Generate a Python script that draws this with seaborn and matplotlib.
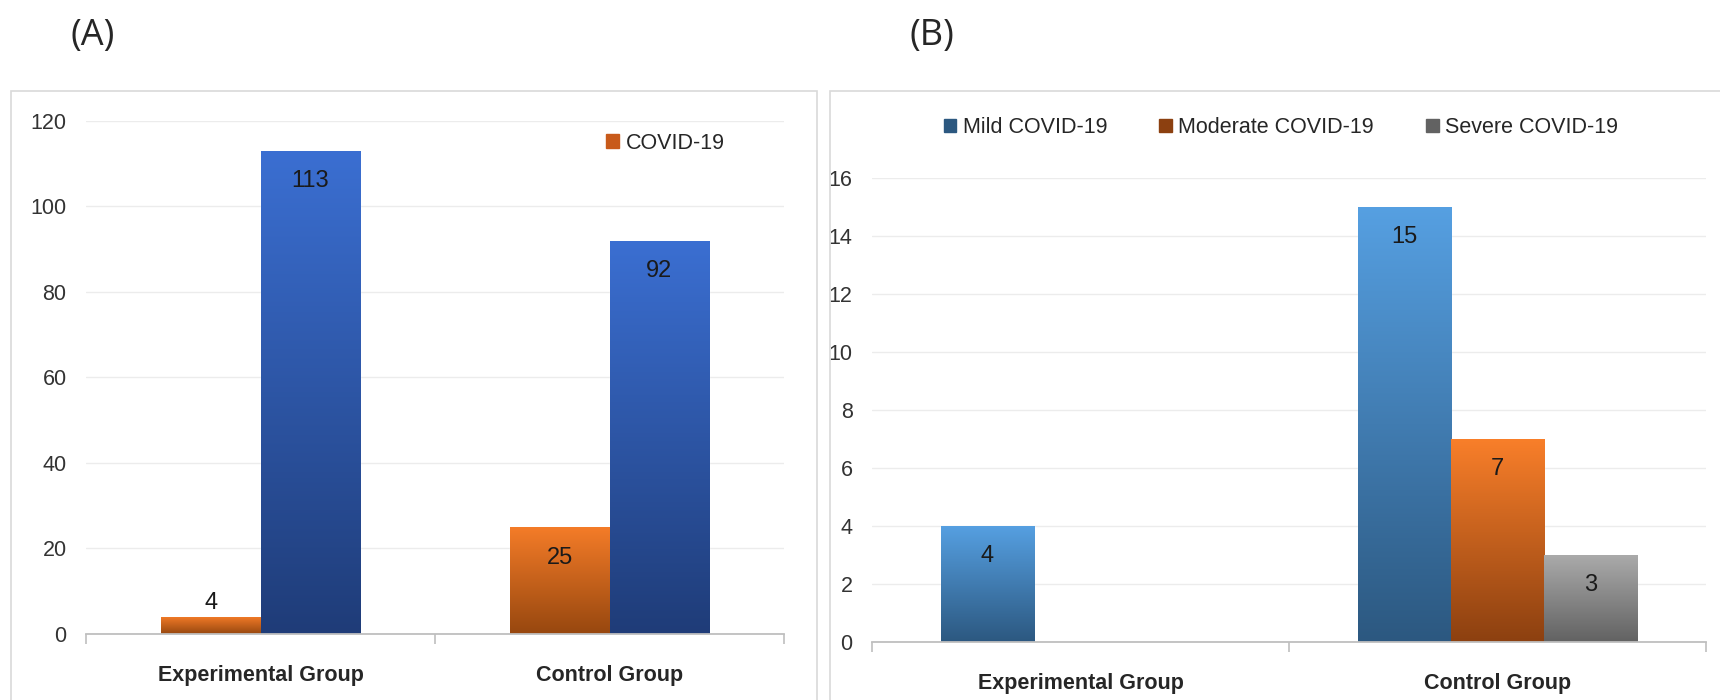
import numpy as np
import pandas as pd
import seaborn as sns
import matplotlib.pyplot as plt
from matplotlib.patches import Rectangle, Patch
from matplotlib.colors import LinearSegmentedColormap

# Data
GROUPS = ["Experimental Group", "Control Group"]

A_SERIES = ["COVID-19", "No COVID-19"]   # second series has no legend entry
A_COVID = [4, 25]
A_OTHER = [113, 92]

B_SERIES = ["Mild COVID-19", "Moderate COVID-19", "Severe COVID-19"]
B_MILD = [4, 15]
B_MODERATE = [0, 7]
B_SEVERE = [0, 3]

# (bottom, top) gradient colours per series
A_COLORS = {"COVID-19": ("#97470f", "#f47c28"), "No COVID-19": ("#1f3c78", "#3b6fd2")}
B_COLORS = {"Mild COVID-19": ("#2c5880", "#56a0e2"),
            "Moderate COVID-19": ("#8c4010", "#f97f2a"),
            "Severe COVID-19": ("#626262", "#ababab")}

sns.set_theme(style="white")
plt.rcParams['font.family'] = ['Liberation Sans', 'DejaVu Sans']


def shade_bars(ax, colors, order):
    # seaborn draws the bars hue by hue, one per category
    n = len(GROUPS)
    for i, patch in enumerate(ax.patches):
        h = patch.get_height()
        if not h or np.isnan(h):
            continue
        lo, hi = colors[order[i // n]]
        cmap = LinearSegmentedColormap.from_list("g", [lo, hi])
        x0 = patch.get_x()
        w = patch.get_width()
        im = ax.imshow(np.linspace(0, 1, 256).reshape(-1, 1), cmap=cmap,
                       extent=[x0, x0 + w, 0, h], origin="lower",
                       aspect="auto", zorder=patch.get_zorder() + 0.1)
        im.set_clip_path(patch)


def style_axis(ax, ymax, step):
    ax.set_xlim(-0.5, 1.5)
    ax.set_ylim(0, ymax)
    ax.set_yticks(np.arange(0, ymax + 1, step))
    ax.yaxis.grid(True, color="#ececec", lw=1)
    ax.set_axisbelow(True)
    for s in ["left", "top", "right"]:
        ax.spines[s].set_visible(False)
    ax.spines["bottom"].set_color("#bfbfbf")
    ax.spines["bottom"].set_linewidth(1.3)
    ax.set_xticks([0, 1])
    ax.set_xticklabels(GROUPS, fontweight="bold", fontsize=15.5, color="#262626")
    ax.set_xticks([-0.5, 0.5, 1.5], minor=True)
    ax.tick_params(axis="x", which="major", bottom=False, pad=16)
    ax.tick_params(axis="x", which="minor", bottom=True, length=7, color="#bfbfbf",
                   width=1.2, direction="out")
    ax.tick_params(axis="y", length=0, labelsize=15.5, labelcolor="#333333", pad=14)
    ax.set_xlabel("")
    ax.set_ylabel("")


def add_labels(ax, outside_below):
    for patch in ax.patches:
        h = patch.get_height()
        if not h or np.isnan(h):
            continue
        x = patch.get_x() + patch.get_width() / 2
        dy = 10 if h < outside_below else -22
        ax.annotate(f"{h:g}", (x, h), xytext=(0, dy), textcoords="offset points",
                    ha="center", va="center", fontsize=17, color="#1a1a1a", zorder=5)


fig = plt.figure(figsize=(17.2, 7), dpi=100)

# panel frames
fig.add_artist(Rectangle((0.0064, -0.01), 0.4686, 0.88, transform=fig.transFigure,
                         fill=False, edgecolor="#d9d9d9", lw=1.2))
fig.add_artist(Rectangle((0.4826, -0.01), 0.52, 0.88, transform=fig.transFigure,
                         fill=False, edgecolor="#d9d9d9", lw=1.2))

fig.text(0.041, 0.948, "(A)", fontsize=26, ha="left", va="center", family=["Open Sans", "DejaVu Sans"])
fig.text(0.529, 0.948, "(B)", fontsize=26, ha="left", va="center", family=["Open Sans", "DejaVu Sans"])

# Panel A
df_a = pd.DataFrame({
    "group": GROUPS * 2,
    "series": [A_SERIES[0]] * 2 + [A_SERIES[1]] * 2,
    "value": A_COVID + A_OTHER,
})
ax_a = fig.add_axes([0.050, 0.0943, 0.406, 0.7329])
sns.barplot(data=df_a, x="group", y="value", hue="series", hue_order=A_SERIES,
            order=GROUPS, width=0.57, palette=[A_COLORS[s][1] for s in A_SERIES],
            legend=False, ax=ax_a, saturation=1)
shade_bars(ax_a, A_COLORS, A_SERIES)
style_axis(ax_a, 120, 20)
add_labels(ax_a, 10)
ax_a.legend(handles=[Patch(color="#c85a1a")], labels=["COVID-19"], loc="center",
            bbox_to_anchor=(0.83, 0.957), frameon=False, fontsize=15.5,
            handlelength=0.6, handleheight=0.6, handletextpad=0.3)

# Panel B
df_b = pd.DataFrame({
    "group": GROUPS * 3,
    "series": [s for s in B_SERIES for _ in GROUPS],
    "value": B_MILD + B_MODERATE + B_SEVERE,
})
ax_b = fig.add_axes([0.507, 0.0829, 0.485, 0.6631])
sns.barplot(data=df_b, x="group", y="value", hue="series", hue_order=B_SERIES,
            order=GROUPS, width=0.67, palette=[B_COLORS[s][1] for s in B_SERIES],
            legend=False, ax=ax_b, saturation=1)
shade_bars(ax_b, B_COLORS, B_SERIES)
style_axis(ax_b, 16, 2)
add_labels(ax_b, 1)
ax_b.legend(handles=[Patch(color=B_COLORS[s][0]) for s in B_SERIES], labels=B_SERIES,
            loc="center", bbox_to_anchor=(0.49, 1.108), ncol=3, frameon=False,
            fontsize=15.5, handlelength=0.6, handleheight=0.6, handletextpad=0.3,
            columnspacing=2.4)

fig.savefig("out.png", dpi=100)
